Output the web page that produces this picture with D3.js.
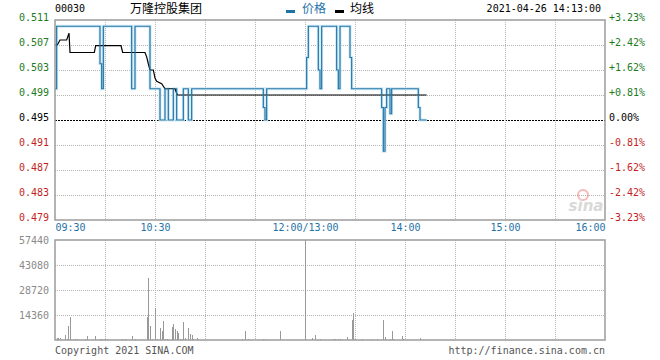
<!DOCTYPE html>
<html>
<head>
<meta charset="utf-8">
<script src="https://cdn.jsdelivr.net/npm/d3@7"></script>
<style>
  body { margin: 0; background: #fff; }
  text { font-family: "DejaVu Sans Mono", monospace; }
</style>
</head>
<body>
<div id="chart"></div>
<script>
// intraday chart, 00030 万隆控股集团, 2021-04-26
// minutes counted from 09:30, lunch break folded (12:00 == 13:00 == minute 150)

var prevClose = 0.495;

// price: minute where the price changes, and the new price
var priceMin = [0, 1, 27, 28, 29, 46, 48, 57, 63, 66, 68, 71, 73, 77, 80, 82,
  125, 126, 127, 151, 152, 158, 159, 160, 169, 170, 171, 177, 178,
  196, 197, 198, 199, 201, 202, 218, 219, 223];
var priceVal = [0.500, 0.510, 0.504, 0.500, 0.510, 0.500, 0.510, 0.500, 0.495, 0.500, 0.495, 0.500, 0.495, 0.500, 0.495, 0.500,
  0.497, 0.495, 0.500, 0.505, 0.510, 0.503, 0.500, 0.510, 0.503, 0.500, 0.510, 0.505, 0.500,
  0.497, 0.490, 0.497, 0.500, 0.496, 0.500, 0.497, 0.495, 0.495];

// average price line
var avgMin = [0, 1.4, 3, 7, 8.4, 9, 23.6, 24.4, 39.6, 40.6, 54, 55, 56, 57, 59, 60, 61, 64, 66, 72, 73.4, 223];
var avgVal = [0.507, 0.507, 0.5078, 0.5078, 0.5089, 0.5058, 0.5058, 0.5069, 0.5069, 0.5058, 0.5058, 0.5051, 0.5040, 0.5030, 0.5030, 0.5017, 0.5012, 0.5008, 0.5000, 0.5000, 0.4990, 0.4990];

// volume per minute (only minutes with trades)
var volMin = [1, 2, 3, 6, 7, 8, 9, 12, 13, 18, 19, 24, 27, 28, 30, 31, 40, 42, 46, 48,
  55, 56, 57, 58, 60, 61, 63, 64, 65, 66, 67, 70, 71, 72, 73, 74, 75, 76, 77, 78, 80, 81, 82, 83, 85,
  112, 114, 116, 125, 126, 135, 150, 154, 156, 159, 167, 168, 170, 171, 175, 178, 179, 180, 184,
  190, 193, 197, 198, 201, 202, 203, 208, 209, 219];
var volVal = [1200, 1000, 1000, 2900, 800, 8000, 13000, 800, 500, 500, 2300, 2300, 800, 400, 800, 400, 800, 400, 2300, 500,
  13200, 35800, 8000, 500, 18200, 500, 6900, 5200, 10900, 800, 800, 7500, 9200, 6300, 5200, 4000, 800, 800, 10300, 1100, 6900, 3400, 2900, 500, 1200,
  500, 5200, 500, 400, 400, 5200, 57440, 900, 2900, 400, 400, 400, 600, 400, 1700, 11500, 15500, 500, 500,
  300, 300, 11500, 1800, 600, 5200, 500, 2300, 500, 1100];

var priceTicks = [0.511, 0.507, 0.503, 0.499, 0.495, 0.491, 0.487, 0.483, 0.479];
var volTicks = [57440, 43080, 28720, 14360];
var timeTicks = [0, 60, 150, 210, 270, 330];
var timeLabels = ["09:30", "10:30", "12:00/13:00", "14:00", "15:00", "16:00"];
var gridMins = d3.range(0, 331, 30);

var W = 660, H = 360;
var left = 55, right = 605;

var green = "#1e7b1e", red = "#c41f1f", blue = "#1f72a6", grid = "#b4b4b4";

var svg = d3.select("#chart").append("svg")
  .attr("width", W).attr("height", H);

var x = d3.scaleLinear().domain([0, 330]).range([left, right]);
var y = d3.scaleLinear().domain([0.479, 0.511]).range([220, 20]);
var yv = d3.scaleLinear().domain([0, 57440]).range([340, 240]);

function tickColor(v) {
  if (Math.abs(v - prevClose) < 1e-9) return "#000";
  return v > prevClose ? green : red;
}

// ---------- price panel grid ----------
var gp = svg.append("g").attr("shape-rendering", "crispEdges");
gp.selectAll(".hg").data(priceTicks.slice(1, -1)).enter().append("line")
  .attr("x1", left).attr("x2", right)
  .attr("y1", function(d) { return y(d) + 0.5; }).attr("y2", function(d) { return y(d) + 0.5; })
  .attr("stroke", function(d) { return d === prevClose ? "#000" : grid; })
  .attr("stroke-dasharray", function(d) { return d === prevClose ? "2,1" : "1,1"; });
gp.selectAll(".vg").data(gridMins.slice(1, -1)).enter().append("line")
  .attr("x1", function(d) { return Math.round(x(d)) + 0.5; }).attr("x2", function(d) { return Math.round(x(d)) + 0.5; })
  .attr("y1", 20).attr("y2", 220)
  .attr("stroke", grid).attr("stroke-dasharray", "1,1");

// ---------- volume panel grid ----------
var gv = svg.append("g").attr("shape-rendering", "crispEdges");
gv.selectAll(".hg").data(volTicks.slice(1)).enter().append("line")
  .attr("x1", left).attr("x2", right)
  .attr("y1", function(d) { return yv(d) + 0.5; }).attr("y2", function(d) { return yv(d) + 0.5; })
  .attr("stroke", grid).attr("stroke-dasharray", "1,1");
gv.selectAll(".vg").data(gridMins.slice(1, -1)).enter().append("line")
  .attr("x1", function(d) { return Math.round(x(d)) + 0.5; }).attr("x2", function(d) { return Math.round(x(d)) + 0.5; })
  .attr("y1", 240).attr("y2", 340)
  .attr("stroke", grid).attr("stroke-dasharray", "1,1");

// sina watermark
var wm = svg.append("g").attr("opacity", 0.55);
wm.append("circle").attr("cx", 583).attr("cy", 195).attr("r", 5)
  .attr("fill", "none").attr("stroke", "#f08080").attr("stroke-width", 2);
wm.append("text").attr("x", 586).attr("y", 211).attr("text-anchor", "middle")
  .style("font-family", "DejaVu Sans").style("font-style", "italic").style("font-weight", "bold")
  .style("font-size", "15px").attr("fill", "#bbb").text("sina");

// ---------- volume bars ----------
var vols = volMin.map(function(m, i) { return {m: m, v: volVal[i]}; });
svg.append("g").attr("shape-rendering", "crispEdges")
  .selectAll("rect").data(vols).enter().append("rect")
  .attr("x", function(d) { return Math.round(x(d.m)); })
  .attr("y", function(d) { return yv(d.v); })
  .attr("width", 1)
  .attr("height", function(d) { return 340 - yv(d.v); })
  .attr("fill", "#999");

// ---------- price + average lines ----------
var prices = priceMin.map(function(m, i) { return {m: m, p: priceVal[i]}; });
var avgs = avgMin.map(function(m, i) { return {m: m, p: avgVal[i]}; });

var stepLine = d3.line()
  .x(function(d) { return x(d.m); })
  .y(function(d) { return y(d.p); })
  .curve(d3.curveStepAfter);
var avgLine = d3.line()
  .x(function(d) { return x(d.m); })
  .y(function(d) { return y(d.p); });

svg.append("path").datum(prices).attr("d", stepLine)
  .attr("fill", "none").attr("stroke", "#cfe9f6").attr("stroke-width", 3);
svg.append("path").datum(avgs).attr("d", avgLine)
  .attr("fill", "none").attr("stroke", "#000").attr("stroke-width", 1.2);
svg.append("path").datum(prices).attr("d", stepLine)
  .attr("fill", "none").attr("stroke", "#2677a8").attr("stroke-width", 1.2);

// ---------- frames ----------
svg.append("rect").attr("x", left).attr("y", 20).attr("width", right - left).attr("height", 200)
  .attr("fill", "none").attr("stroke", "#9c9c9c").attr("stroke-width", 1.5);
svg.append("rect").attr("x", left).attr("y", 240).attr("width", right - left).attr("height", 100)
  .attr("fill", "none").attr("stroke", "#9c9c9c").attr("stroke-width", 1.5);

// ---------- axes ----------
var axL = svg.append("g").attr("transform", "translate(" + (left - 3) + ",0)")
  .call(d3.axisLeft(y).tickValues(priceTicks).tickSize(0).tickFormat(d3.format(".3f")));
axL.select(".domain").remove();
axL.selectAll("text").style("font-family", "DejaVu Sans Mono").style("font-size", "10px")
  .attr("dy", "0.05em")
  .attr("fill", function(d) { return tickColor(d); });

var axR = svg.append("g").attr("transform", "translate(" + (right + 1) + ",0)")
  .call(d3.axisRight(y).tickValues(priceTicks).tickSize(0)
    .tickFormat(function(d) {
      var r = (d - prevClose) / prevClose * 100;
      return (r > 0.0001 ? "+" : "") + (Math.abs(r) < 0.0001 ? "0.00" : r.toFixed(2)) + "%";
    }));
axR.select(".domain").remove();
axR.selectAll("text").style("font-family", "DejaVu Sans Mono").style("font-size", "10px")
  .attr("dy", "0.05em")
  .attr("fill", function(d) { return tickColor(d); });

var axV = svg.append("g").attr("transform", "translate(" + (left - 3) + ",0)")
  .call(d3.axisLeft(yv).tickValues(volTicks).tickSize(0).tickFormat(d3.format("d")));
axV.select(".domain").remove();
axV.selectAll("text").style("font-family", "DejaVu Sans Mono").style("font-size", "10px")
  .attr("fill", "#8a8a8a");

var axT = svg.append("g").attr("transform", "translate(0,221)")
  .call(d3.axisBottom(x).tickValues(timeTicks).tickSize(0)
    .tickFormat(function(d, i) { return timeLabels[i]; }));
axT.select(".domain").remove();
axT.selectAll("text").style("font-family", "DejaVu Sans Mono").style("font-size", "10px")
  .attr("fill", blue)
  .attr("text-anchor", function(d, i) { return i === 0 ? "start" : (i === timeTicks.length - 1 ? "end" : "middle"); });

// ---------- header ----------
svg.append("text").attr("x", left).attr("y", 12).style("font-size", "10px").attr("fill", "#000").text("00030");
svg.append("text").attr("x", 166).attr("y", 13).attr("text-anchor", "middle")
  .style("font-family", "Noto Sans CJK SC").style("font-size", "12px").attr("fill", "#000").text("万隆控股集团");

svg.append("rect").attr("x", 286).attr("y", 10).attr("width", 9).attr("height", 3).attr("fill", blue);
svg.append("text").attr("x", 302).attr("y", 13)
  .style("font-family", "Noto Sans CJK SC").style("font-size", "12px").attr("fill", blue).text("价格");
svg.append("rect").attr("x", 335).attr("y", 10).attr("width", 9).attr("height", 3).attr("fill", "#000");
svg.append("text").attr("x", 350).attr("y", 13)
  .style("font-family", "Noto Sans CJK SC").style("font-size", "12px").attr("fill", "#000").text("均线");

svg.append("text").attr("x", 601).attr("y", 12).attr("text-anchor", "end")
  .style("font-size", "10px").attr("fill", "#000").text("2021-04-26 14:13:00");

// ---------- footer ----------
svg.append("text").attr("x", left).attr("y", 354).style("font-size", "10px").attr("fill", "#555")
  .text("Copyright 2021 SINA.COM");
svg.append("text").attr("x", right).attr("y", 354).attr("text-anchor", "end")
  .style("font-size", "10px").attr("fill", "#555").text("http://finance.sina.com.cn");
</script>
</body>
</html>
